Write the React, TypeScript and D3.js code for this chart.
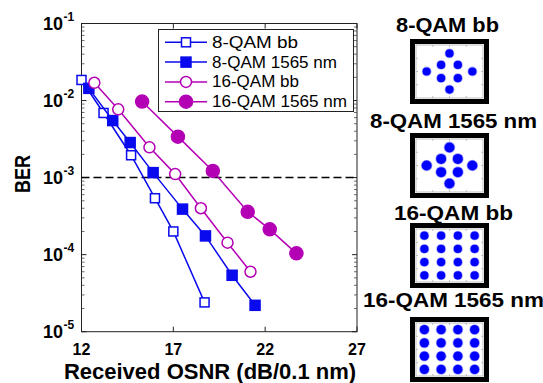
import React from 'react';
import * as d3 from 'd3';

// BER vs received OSNR
const osnr8bb = [12.0, 13.2, 14.7, 16.0, 17.0, 18.7];
const ber8bb = [1.85e-2, 6.9e-3, 1.95e-3, 5.4e-4, 2.0e-4, 2.4e-5];
const osnr8c = [12.4, 13.7, 14.65, 15.9, 17.5, 18.75, 20.2, 21.45];
const ber8c = [1.44e-2, 5.5e-3, 2.85e-3, 1.16e-3, 3.9e-4, 1.75e-4, 5.4e-5, 2.2e-5];
const osnr16bb = [12.7, 14.0, 15.7, 17.1, 18.5, 19.95, 21.2];
const ber16bb = [1.7e-2, 7.7e-3, 2.47e-3, 1.11e-3, 4.0e-4, 1.43e-4, 6.0e-5];
const osnr16c = [15.3, 17.25, 19.15, 21.05, 22.25, 23.7];
const ber16c = [9.7e-3, 3.4e-3, 1.22e-3, 3.6e-4, 2.13e-4, 1.04e-4];

const seriesNames = ['8-QAM bb', '8-QAM 1565 nm', '16-QAM bb', '16-QAM 1565 nm'];
const xTicks = [12, 17, 22, 27];
const yDecades = [-1, -2, -3, -4, -5];
const berLimit = 1e-3;

// constellation symbols (I/Q units)
const star8I = [0, -1, 1, -2.73, 2.73, -1, 1, 0];
const star8Q = [2.73, 1, 1, 0, 0, -1, -1, -2.73];
const qam16Levels = [-3, -1, 1, 3];
const insetTitles = ['8-QAM bb', '8-QAM 1565 nm', '16-QAM bb', '16-QAM 1565 nm'];

const settings = {
  left: 81.5, right: 357, top: 23.5, bottom: 331.7,
};

const BLUE = '#0a0aee';
const MAG = '#b400b4';

const x = d3.scaleLinear().domain([12, 27]).range([settings.left, settings.right]);
const y = d3.scaleLog().domain([1e-5, 1e-1]).range([settings.bottom, settings.top]);

const zip = (xs: number[], ys: number[]) => xs.map((v, i) => [v, ys[i]] as [number, number]);

const series = [
  { name: seriesNames[0], pts: zip(osnr8bb, ber8bb), color: BLUE, shape: 'square', filled: false },
  { name: seriesNames[1], pts: zip(osnr8c, ber8c), color: BLUE, shape: 'square', filled: true },
  { name: seriesNames[2], pts: zip(osnr16bb, ber16bb), color: MAG, shape: 'circle', filled: false },
  { name: seriesNames[3], pts: zip(osnr16c, ber16c), color: MAG, shape: 'circle', filled: true },
];

const line = d3.line<[number, number]>().x(d => x(d[0])).y(d => y(d[1]));

function Marker({ cx, cy, shape, filled, color }: any) {
  if (shape === 'square') {
    const s = filled ? 10 : 9;
    return <rect x={cx - s / 2} y={cy - s / 2} width={s} height={s}
      fill={filled ? color : 'white'} stroke={color} strokeWidth={1.5} />;
  }
  const r = filled ? 6.5 : 5.5;
  return <circle cx={cx} cy={cy} r={r} fill={filled ? color : 'white'} stroke={color} strokeWidth={1.5} />;
}

function Inset({ idx }: { idx: number }) {
  const tops = [39, 133, 223, 317];
  const titleY = [32, 128, 220, 307];
  const titleLen = [103, 167, 119, 181];
  const bx = 410, bw = 79, bh = 65;
  const by = tops[idx];
  const pad = 6;
  const ix = d3.scaleLinear().domain([-4, 4]).range([bx + pad, bx + bw - pad]);
  const iy = d3.scaleLinear().domain([-4, 4]).range([by + bh - pad, by + pad]);
  const is8 = idx < 2;
  const pts: [number, number][] = is8
    ? zip(star8I, star8Q)
    : qam16Levels.flatMap(i => qam16Levels.map(q => [i, q] as [number, number]));
  const r = idx === 1 ? 5 : idx === 3 ? 4.6 : 4.1;
  return (
    <g>
      <text x={bx + bw / 2 + (idx === 0 ? -2 : 4)} y={titleY[idx]} textAnchor="middle"
        fontSize={20} fontWeight="bold" fontFamily="Arial, Liberation Sans, sans-serif"
        textLength={titleLen[idx]} lengthAdjust="spacingAndGlyphs">{insetTitles[idx]}</text>
      <rect x={bx + 2.5} y={by + 2.5} width={bw - 5} height={bh - 5} fill="white" stroke="black" strokeWidth={5} />
      <rect x={bx + pad} y={by + pad} width={bw - 2 * pad} height={bh - 2 * pad} fill="none" stroke="#b0b0b0" strokeWidth={0.8} />
      {[-2, 0, 2].map(t => (
        <g key={t}>
          <line x1={ix(t)} x2={ix(t)} y1={by + bh - pad} y2={by + bh - pad - 2} stroke="#b0b0b0" strokeWidth={0.8} />
          <line x1={ix(t)} x2={ix(t)} y1={by + pad} y2={by + pad + 2} stroke="#b0b0b0" strokeWidth={0.8} />
          <line x1={bx + pad} x2={bx + pad + 2} y1={iy(t)} y2={iy(t)} stroke="#b0b0b0" strokeWidth={0.8} />
          <line x1={bx + bw - pad} x2={bx + bw - pad - 2} y1={iy(t)} y2={iy(t)} stroke="#b0b0b0" strokeWidth={0.8} />
        </g>
      ))}
      {pts.map((p, i) => (
        <g key={i}>
          <circle cx={ix(p[0])} cy={iy(p[1])} r={r + 0.8} fill="#4a4aff" opacity={0.45} />
          <circle cx={ix(p[0])} cy={iy(p[1])} r={r} fill="#0000ff" />
        </g>
      ))}
    </g>
  );
}

export default function App() {
  const minor: number[] = [];
  [-5, -4, -3, -2].forEach(k => { for (let m = 2; m <= 9; m++) minor.push(m * Math.pow(10, k)); });
  const font = 'Arial, Liberation Sans, sans-serif';
  const legendLen = [86, 125, 87, 135];
  return (
    <div style={{ position: 'absolute', left: 0, top: 0 }}>
      <svg width={543} height={383} style={{ display: 'block', background: 'white' }}>
        {/* plot frame */}
        <rect x={settings.left} y={settings.top} width={settings.right - settings.left}
          height={settings.bottom - settings.top} fill="white" stroke="#222" strokeWidth={1} />
        {/* y ticks */}
        {yDecades.map(k => (
          <g key={k}>
            <line x1={settings.left} x2={settings.left + 5} y1={y(Math.pow(10, k))} y2={y(Math.pow(10, k))} stroke="#222" />
            <line x1={settings.right} x2={settings.right - 5} y1={y(Math.pow(10, k))} y2={y(Math.pow(10, k))} stroke="#222" />
            <text x={63} y={y(Math.pow(10, k)) + 6} textAnchor="end" fontSize={18} fontWeight="bold" fontFamily={font}>10</text>
            <text x={63.5} y={y(Math.pow(10, k)) - 3} fontSize={12} fontWeight="bold" fontFamily={font}>{`-${-k}`}</text>
          </g>
        ))}
        {minor.map((v, i) => (
          <g key={i}>
            <line x1={settings.left} x2={settings.left + 3} y1={y(v)} y2={y(v)} stroke="#444" strokeWidth={0.8} />
            <line x1={settings.right} x2={settings.right - 3} y1={y(v)} y2={y(v)} stroke="#444" strokeWidth={0.8} />
          </g>
        ))}
        {/* x ticks */}
        {xTicks.map(t => (
          <g key={t}>
            <line x1={x(t)} x2={x(t)} y1={settings.bottom} y2={settings.bottom - 5} stroke="#222" />
            <line x1={x(t)} x2={x(t)} y1={settings.top} y2={settings.top + 5} stroke="#222" />
            <text x={x(t)} y={355} textAnchor="middle" fontSize={16} fontWeight="bold" fontFamily={font}>{t}</text>
          </g>
        ))}
        <text x={210} y={379} textAnchor="middle" fontSize={22} fontWeight="bold" fontFamily={font}>Received OSNR (dB/0.1 nm)</text>
        <text transform={`translate(30,174) rotate(-90)`} textAnchor="middle" fontSize={22} fontWeight="bold"
          fontFamily={font} textLength={38} lengthAdjust="spacingAndGlyphs">BER</text>
        {/* FEC limit */}
        <line x1={settings.left} x2={settings.right} y1={y(berLimit)} y2={y(berLimit)} stroke="black" strokeWidth={1.5} strokeDasharray="8,4" />
        {/* series */}
        {series.map(s => (
          <g key={s.name}>
            <path d={line(s.pts) || ''} fill="none" stroke={s.color} strokeWidth={1.5} />
            {s.pts.map((p, i) => <Marker key={i} cx={x(p[0])} cy={y(p[1])} shape={s.shape} filled={s.filled} color={s.color} />)}
          </g>
        ))}
        {/* legend */}
        <rect x={158.5} y={29.5} width={195} height={82} fill="white" stroke="#222" strokeWidth={1} />
        {series.map((s, i) => {
          const ly = 42.3 + i * 19.8;
          return (
            <g key={s.name}>
              <line x1={165} x2={207} y1={ly} y2={ly} stroke={s.color} strokeWidth={1.5} />
              <Marker cx={186} cy={ly} shape={s.shape} filled={s.filled} color={s.color} />
              <text x={212} y={ly + 5.5} fontSize={16} fontFamily={font} textLength={legendLen[i]} lengthAdjust="spacingAndGlyphs">{s.name}</text>
            </g>
          );
        })}
        {[0, 1, 2, 3].map(i => <Inset key={i} idx={i} />)}
      </svg>
    </div>
  );
}
